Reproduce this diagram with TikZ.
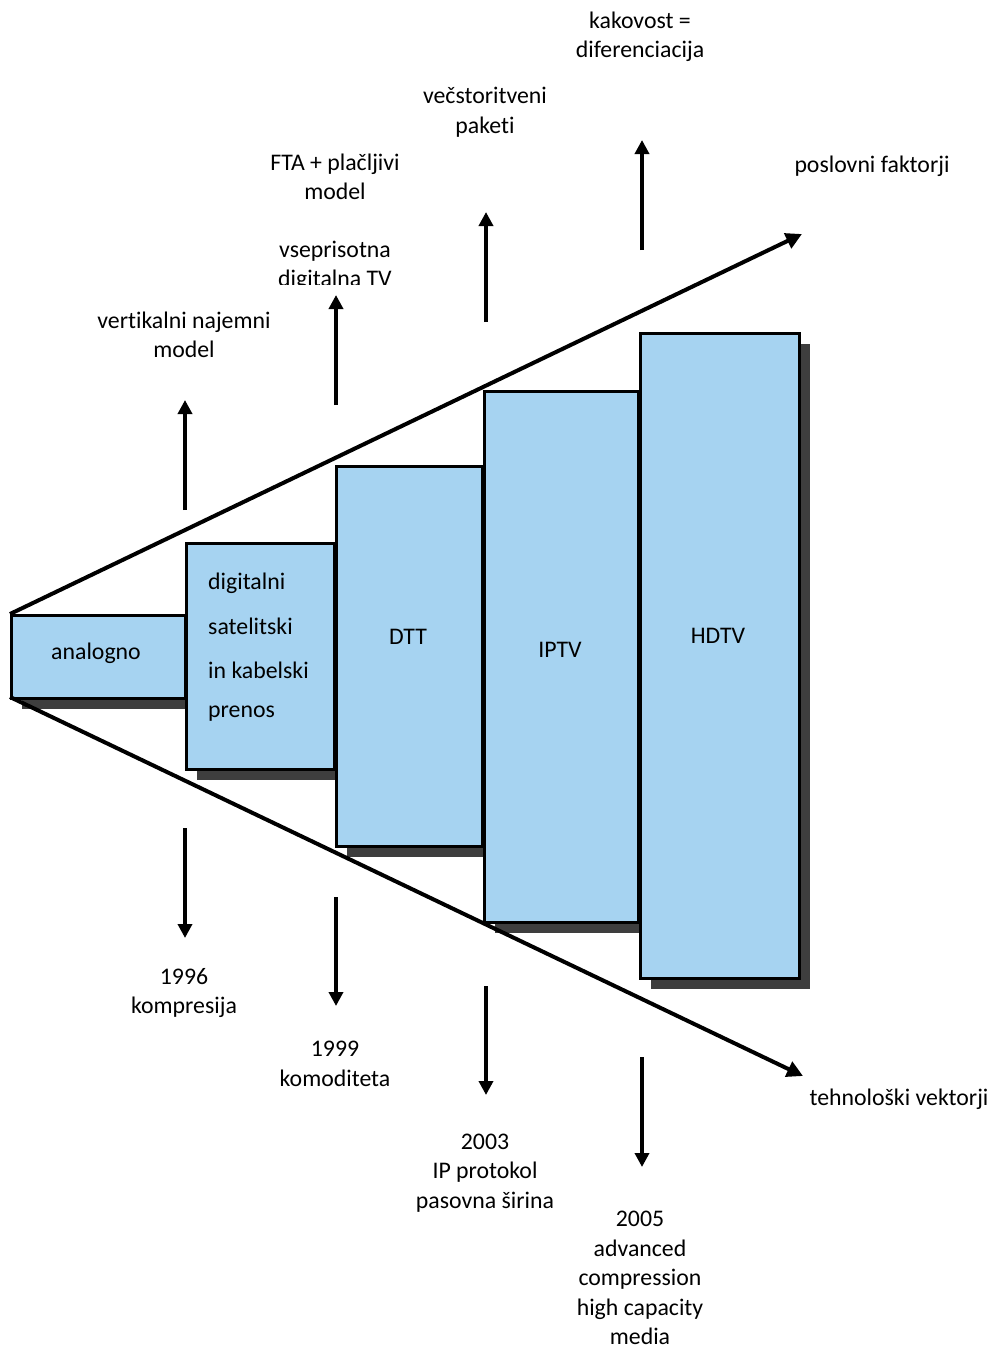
\documentclass[tikz,border=0pt]{standalone}
\usepackage{fontspec}
\setmainfont{Carlito}[RawFeature={-liga;-clig;-calt;-dlig;-rlig}]
\usetikzlibrary{arrows.meta}
\definecolor{boxblue}{RGB}{166,211,241}
\definecolor{shade}{RGB}{62,62,62}
\tikzset{
  stage/.style={draw=black, line width=3pt, fill=boxblue, anchor=north west, inner sep=0pt},
  stageshadow/.style={fill=shade, draw=none},
  lbl/.style={font=\fontsize{23.8}{29.5}\selectfont, align=center, inner sep=0pt},
  vec/.style={line width=4pt, -{Triangle[length=16pt, width=16pt]}},
  tick/.style={line width=4pt, -{Triangle[length=14pt, width=14pt]}},
}
\begin{document}
\begin{tikzpicture}[x=1pt, y=-1pt]
\useasboundingbox (0,0) rectangle (992,1349);

% shadows of the stage boxes
\fill[stageshadow] (22,626) rectangle (196,709);
\fill[stageshadow] (197,554) rectangle (345,780);
\fill[stageshadow] (347,477) rectangle (493,857);
\fill[stageshadow] (495,402) rectangle (649,933);
\fill[stageshadow] (651,344) rectangle (810,989);

% stage boxes
\node[stage, minimum width=174pt, minimum height=83pt]  (ana)  at (10,614)  {};
\node[stage, minimum width=148pt, minimum height=226pt] (dig)  at (185,542) {};
\node[stage, minimum width=146pt, minimum height=380pt] (dtt)  at (335,465) {};
\node[stage, minimum width=154pt, minimum height=531pt] (iptv) at (483,390) {};
\node[stage, minimum width=159pt, minimum height=645pt] (hdtv) at (639,332) {};

% box labels
\node[lbl] (tana)  at (96,653)  {analogno};
\node[lbl, anchor=west] (tdig1) at (208,583) {digitalni};
\node[lbl, anchor=west] (tdig2) at (208,626) {satelitski};
\node[lbl, anchor=west] (tdig3) at (208,670) {in kabelski};
\node[lbl, anchor=west] (tdig4) at (208,714) {prenos};
\node[lbl] (tdtt)  at (408,637) {DTT};
\node[lbl] (tiptv) at (560,650) {IPTV};
\node[lbl] (thdtv) at (718,636) {HDTV};

% the two diverging vectors
\coordinate (apex1) at (10,614);
\coordinate (apex2) at (10,697);
\coordinate (biz) at (802,234);
\coordinate (tech) at (803,1076);
\draw[vec] (apex1) -- (biz);
\draw[vec] (apex2) -- (tech);
\node[lbl] (lbiz)  at (872,166)  {poslovni faktorji};
\node[lbl] (ltech) at (899,1099) {tehnološki vektorji};

% upward arrows (business factors)
\coordinate (u1a) at (185,510); \coordinate (u1b) at (185,400);
\coordinate (u2a) at (336,405); \coordinate (u2b) at (336,295);
\coordinate (u3a) at (486,322); \coordinate (u3b) at (486,212);
\coordinate (u4a) at (642,250); \coordinate (u4b) at (642,140);
\draw[tick] (u1a) -- (u1b);
\draw[tick] (u2a) -- (u2b);
\draw[tick] (u3a) -- (u3b);
\draw[tick] (u4a) -- (u4b);

% downward arrows (technology)
\coordinate (d1a) at (185,828);  \coordinate (d1b) at (185,938);
\coordinate (d2a) at (336,897);  \coordinate (d2b) at (336,1006);
\coordinate (d3a) at (486,986);  \coordinate (d3b) at (486,1095);
\coordinate (d4a) at (642,1057); \coordinate (d4b) at (642,1167);
\draw[tick] (d1a) -- (d1b);
\draw[tick] (d2a) -- (d2b);
\draw[tick] (d3a) -- (d3b);
\draw[tick] (d4a) -- (d4b);

% labels above
\node[lbl] (b1) at (184,335) {vertikalni najemni\\model};
\begin{scope}
  \clip (200,200) rectangle (470,284);
  \node[lbl] (b2) at (335,266) {vseprisotna\\digitalna TV};
\end{scope}
\node[lbl] (b3) at (335,177) {FTA + plačljivi\\model};
\node[lbl] (b4) at (485,112) {večstoritveni\\paketi};
\node[lbl] (b5) at (640,37)  {kakovost =\\diferenciacija};

% labels below
\node[lbl] (t1) at (184,993)  {1996\\kompresija};
\node[lbl] (t2) at (335,1064) {1999\\komoditeta};
\node[lbl] (t3) at (485,1173) {2003\\IP protokol\\pasovna širina};
\node[lbl] (t4) at (640,1278) {2005\\advanced\\compression\\high capacity\\media};
\end{tikzpicture}
\end{document}
